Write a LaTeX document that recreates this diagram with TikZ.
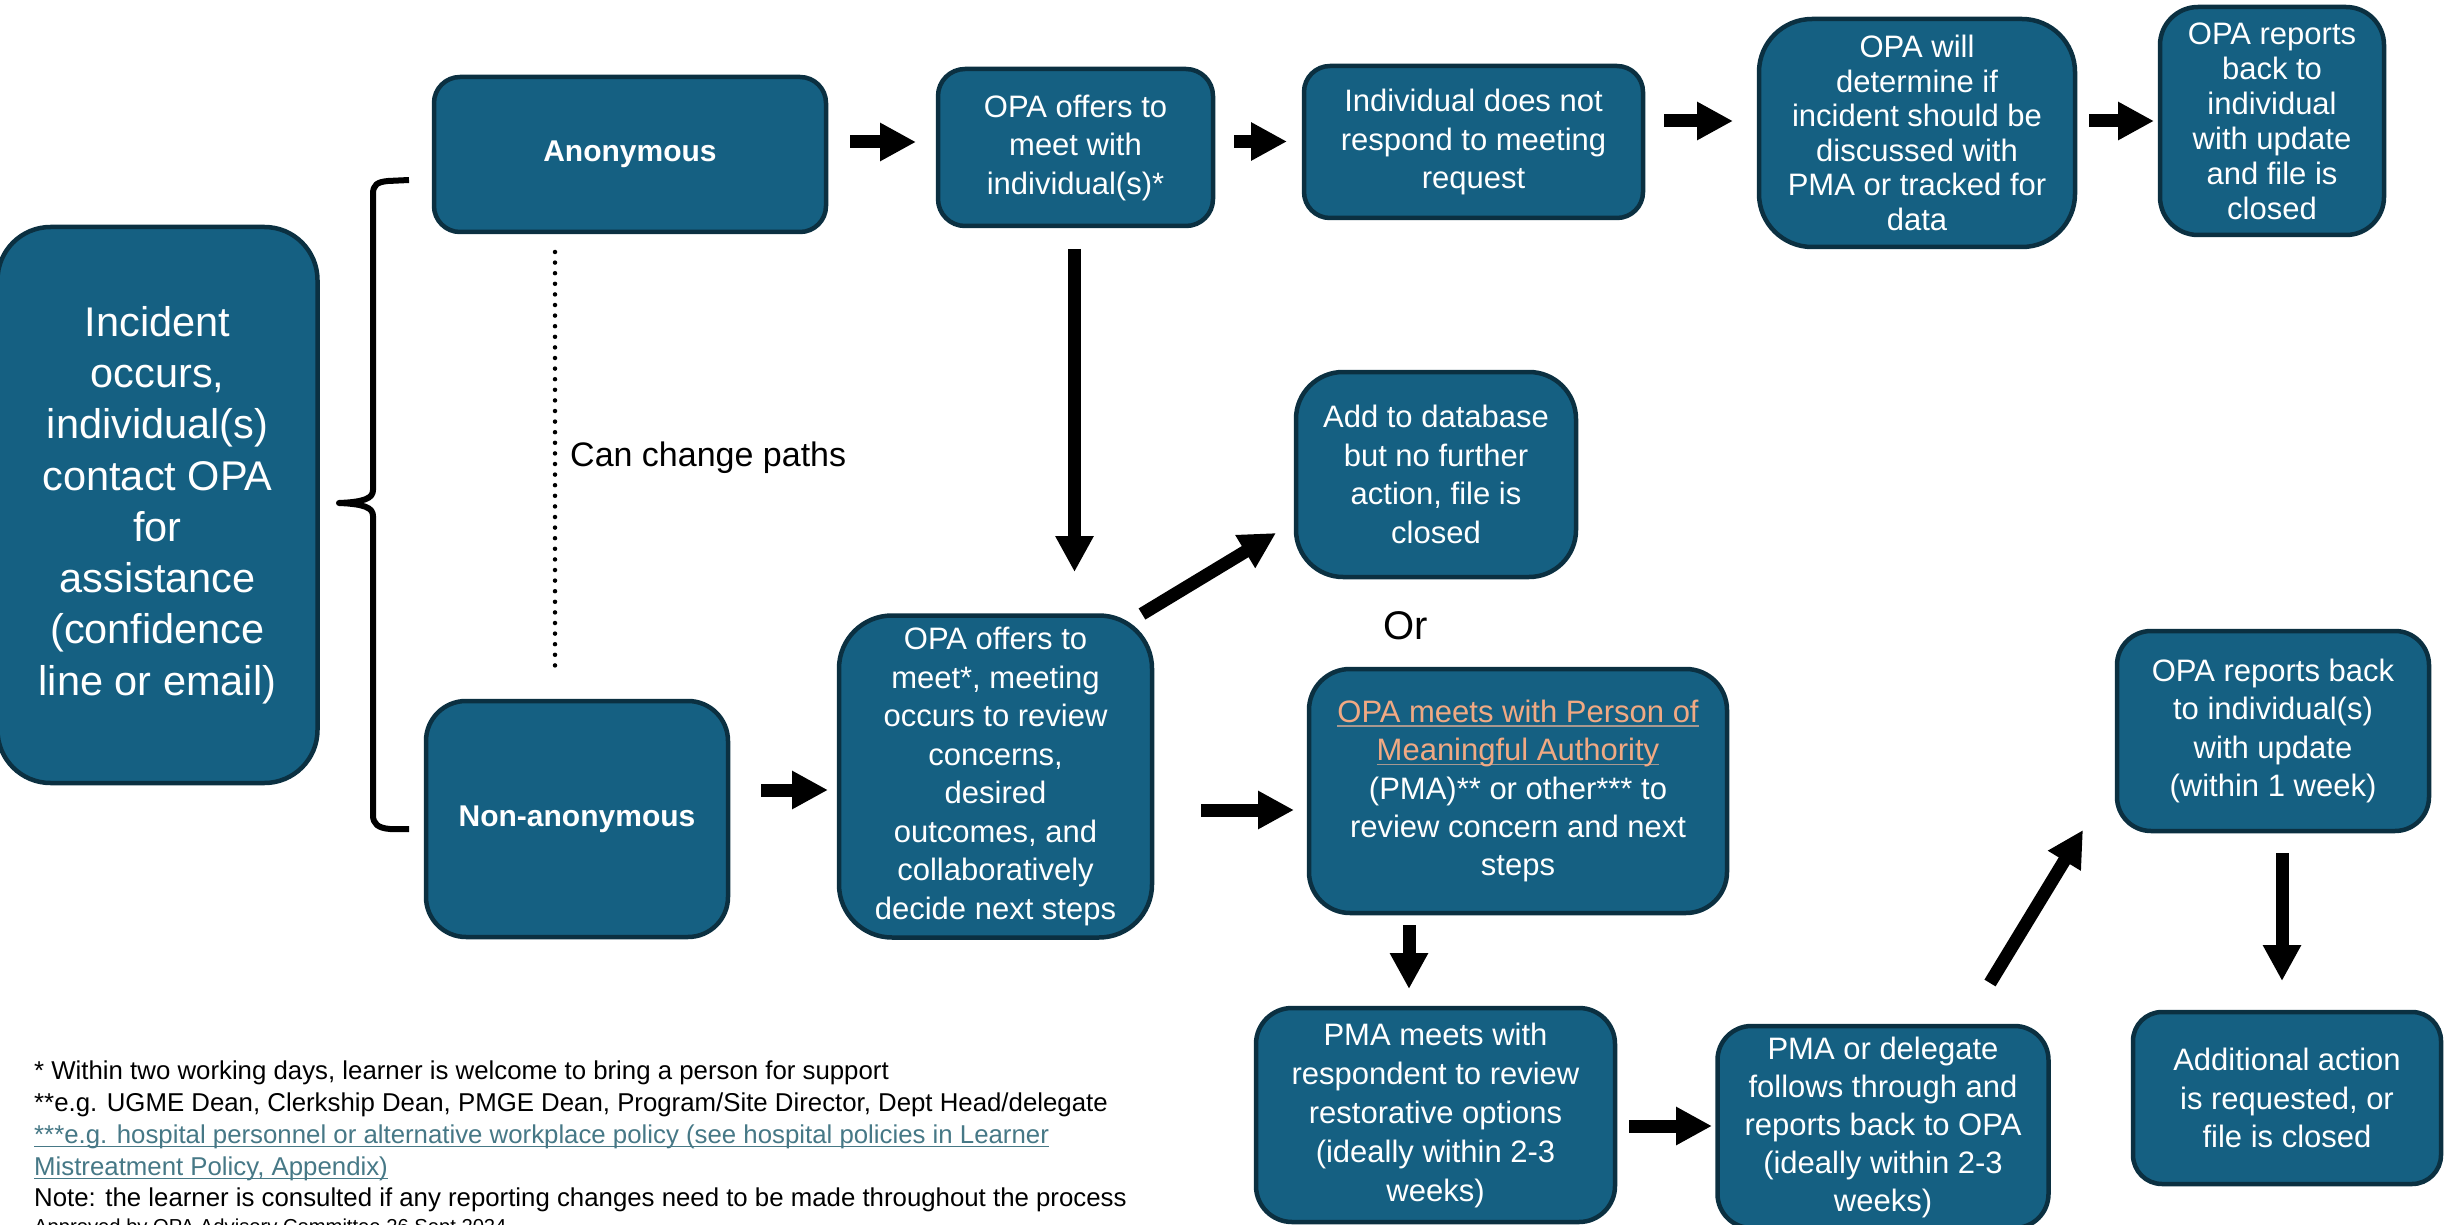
\documentclass[tikz,border=0pt]{standalone}
\usepackage{fontspec}
\setmainfont{Liberation Sans}
\usetikzlibrary{arrows.meta}
\definecolor{boxfill}{HTML}{156082}
\definecolor{boxedge}{HTML}{0B3041}
\definecolor{linkor}{HTML}{F1A983}
\definecolor{linkul}{HTML}{A89890}
\definecolor{linkbl}{HTML}{467886}
\newcommand\ulx[2]{\setbox0\hbox{#2}\rlap{\rule[-4pt]{\wd0}{#1}}\box0}
\newcommand\ulc[3]{\setbox0\hbox{#3}\rlap{\color{#2}\rule[-4pt]{\wd0}{#1}}\box0}
\tikzset{
  box/.style={draw=boxedge, line width=4.5pt, fill=boxfill, text=white, align=center,
    inner sep=0pt, font=\fontsize{31}{38.5}\selectfont},
  barrow/.style={line width=13pt, -{Triangle[length=36pt,width=36pt]}},
  foot/.style={anchor=base west, inner sep=0pt, font=\fontsize{25.8}{32}\selectfont},
  brace/.style={line width=6pt, line join=round},
}
\begin{document}
\begin{tikzpicture}[x=1pt,y=-1pt]
\useasboundingbox (0,0) rectangle (2445,1225);

% boxes
\node[box, minimum width=320pt, minimum height=556pt, rounded corners=53pt,
  font=\fontsize{41.5}{51.3}\selectfont] (inc) at (157.5,505)
  {Incident\\occurs,\\individual(s)\\contact OPA\\for\\assistance\\(confidence\\line or email)};
\node[box, minimum width=392pt, minimum height=155pt, rounded corners=26pt,
  font=\fontsize{30}{36}\selectfont\bfseries] (anon) at (630,154.5) {Anonymous};
\node[box, minimum width=302pt, minimum height=236pt, rounded corners=40pt,
  font=\fontsize{30}{36}\selectfont\bfseries] (nonanon) at (577,819) {Non-anonymous};
\node[box, minimum width=275pt, minimum height=157pt, rounded corners=27pt] (offer1) at (1075.5,147.5)
  {OPA offers to\\meet with\\individual(s)*};
\node[box, minimum width=339pt, minimum height=152pt, rounded corners=26pt] (noresp) at (1473.5,142)
  {Individual does not\\respond to meeting\\request};
\node[box, minimum width=316pt, minimum height=228pt, rounded corners=53pt,
  font=\fontsize{31}{34.5}\selectfont] (determine) at (1917,133)
  {OPA will\\determine if\\incident should be\\discussed with\\PMA or tracked for\\data};
\node[box, minimum width=224pt, minimum height=228pt, rounded corners=38pt,
  font=\fontsize{31}{35}\selectfont] (report1) at (2272,121)
  {OPA reports\\back to\\individual\\with update\\and file is\\closed};
\node[box, minimum width=280pt, minimum height=205pt, rounded corners=47pt] (addb) at (1436,474.5)
  {Add to database\\but no further\\action, file is\\closed};
\node[box, minimum width=313pt, minimum height=322pt, rounded corners=53pt] (offer2) at (995.5,776.5)
  {OPA offers to\\meet*, meeting\\occurs to review\\concerns,\\desired\\outcomes, and\\collaboratively\\decide next steps};
\node[box, minimum width=418pt, minimum height=244pt, rounded corners=41pt,
  font=\fontsize{31}{38.2}\selectfont] (pma) at (1518,791)
  {{\color{linkor}\ulc{1.3pt}{linkul}{OPA meets with Person of}}\\{\color{linkor}\ulc{1.3pt}{linkul}{Meaningful Authority}}\\(PMA)** or other*** to\\review concern and next\\steps};
\node[box, minimum width=312pt, minimum height=200pt, rounded corners=34pt] (report2) at (2273,731)
  {OPA reports back\\to individual(s)\\with update\\(within 1 week)};
\node[box, minimum width=359pt, minimum height=214pt, rounded corners=36pt,
  font=\fontsize{31}{39}\selectfont] (pmameet) at (1435.5,1115)
  {PMA meets with\\respondent to review\\restorative options\\(ideally within 2-3\\weeks)};
\node[box, minimum width=331pt, minimum height=202pt, rounded corners=34pt,
  font=\fontsize{31}{38}\selectfont] (deleg) at (1883,1127)
  {PMA or delegate\\follows through and\\reports back to OPA\\(ideally within 2-3\\weeks)};
\node[box, minimum width=308pt, minimum height=172pt, rounded corners=29pt] (addl) at (2287,1098)
  {Additional action\\is requested, or\\file is closed};

% brace
\draw[brace] (409,180) -- (388,181) .. controls (377,182) and (373,185) .. (373,194)
  -- (373,490) .. controls (373,498) and (365,502) .. (339,503)
  .. controls (365,504) and (373,508) .. (373,516)
  -- (373,815) .. controls (373,824) and (378,828) .. (390,829) -- (409,829);

% dotted line
\coordinate (dtop) at (555,252);
\coordinate (dbot) at (555,675);
\draw[line width=4.5pt, line cap=round, dash pattern=on 0pt off 10.6pt] (dtop) -- (dbot);
\node[anchor=base west, inner sep=0pt, font=\fontsize{34}{40}\selectfont] (chg) at (570,466) {Can change paths};
\node[anchor=base, inner sep=0pt, font=\fontsize{40}{48}\selectfont] (or) at (1406,639) {Or};

% arrows
\coordinate (a1s) at (850,142);   \coordinate (a1e) at (916,142);
\coordinate (a2s) at (1234,141.5); \coordinate (a2e) at (1287,141.5);
\coordinate (a3s) at (1664,121);  \coordinate (a3e) at (1733,121);
\coordinate (a4s) at (2089,121);  \coordinate (a4e) at (2154,121);
\coordinate (a5s) at (1074.5,249); \coordinate (a5e) at (1074.5,572);
\coordinate (a6s) at (761,790);   \coordinate (a6e) at (828,790);
\coordinate (a7s) at (1142,614);  \coordinate (a7e) at (1276,533);
\coordinate (a8s) at (1201,810);  \coordinate (a8e) at (1294,810);
\coordinate (a9s) at (1409,925);  \coordinate (a9e) at (1409,989);
\coordinate (a10s) at (1629,1126); \coordinate (a10e) at (1712,1126);
\coordinate (a11s) at (1990,983); \coordinate (a11e) at (2083,830);
\coordinate (a12s) at (2282,853); \coordinate (a12e) at (2282,981);
\foreach \i in {1,...,12} {\draw[barrow] (a\i s) -- (a\i e);}

% footnotes
\node[foot] (f1) at (34,1079) {* Within two working days, learner is welcome to bring a person for support};
\node[foot] (f2) at (34,1111) {**e.g. UGME Dean, Clerkship Dean, PMGE Dean, Program/Site Director, Dept Head/delegate};
\node[foot, text=linkbl] (f3) at (34,1143) {\ulx{1.4pt}{***e.g. hospital personnel or alternative workplace policy (see hospital policies in Learner}};
\node[foot, text=linkbl] (f4) at (34,1175) {\ulx{1.4pt}{Mistreatment Policy, Appendix)}};
\node[foot] (f5) at (34,1206) {Note: the learner is consulted if any reporting changes need to be made throughout the process};
\node[foot, font=\fontsize{20.2}{24}\selectfont] (f6) at (34,1233) {Approved by OPA Advisory Committee 26 Sept 2024};
\end{tikzpicture}
\end{document}
